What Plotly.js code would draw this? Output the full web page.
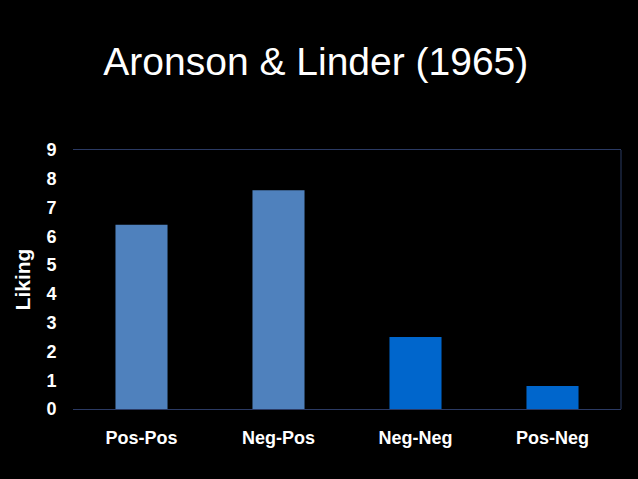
<!DOCTYPE html>
<html>
<head>
<meta charset="utf-8">
<script src="https://cdn.plot.ly/plotly-3.0.1.min.js"></script>
<style>html,body{margin:0;padding:0;background:#000;}#chart{width:638px;height:479px;}</style>
</head>
<body>
<div id="chart"></div>
<script>
const categories = ["Pos-Pos", "Neg-Pos", "Neg-Neg", "Pos-Neg"];
const liking = [6.4, 7.6, 2.5, 0.8];
const barColors = ["#4f81bd", "#4f81bd", "#0066cc", "#0066cc"];
const yTicks = [0, 1, 2, 3, 4, 5, 6, 7, 8, 9];

const frameColor = "#2b3a63";

Plotly.newPlot("chart", [{
  type: "bar",
  x: categories,
  y: liking,
  marker: {color: barColors, line: {width: 0}},
  width: 0.38,
  hoverinfo: "skip"
}], {
  width: 638, height: 479,
  paper_bgcolor: "#000", plot_bgcolor: "#000",
  margin: {l: 73, r: 17, t: 150, b: 70},
  showlegend: false,
  title: {
    text: "Aronson & Linder (1965)",
    font: {family: "Liberation Sans, Arial, sans-serif", size: 39, color: "#ffffff"},
    xref: "container", yref: "container",
    x: 0.495, xanchor: "center", y: 0.871, yanchor: "middle"
  },
  xaxis: {
    showline: true, mirror: true, linecolor: frameColor, linewidth: 1,
    ticks: "outside", ticklen: 12, tickcolor: "rgba(0,0,0,0)",
    tickfont: {family: "Liberation Sans, Arial, sans-serif", size: 18, color: "#ffffff", weight: "bold"},
    showgrid: false, zeroline: false
  },
  yaxis: {
    range: [0, 9], tickvals: yTicks, ticktext: yTicks.map(String),
    showline: false, showgrid: false, zeroline: false,
    ticks: "outside", ticklen: 12, tickcolor: "rgba(0,0,0,0)",
    tickfont: {family: "Liberation Sans, Arial, sans-serif", size: 18, color: "#ffffff", weight: "bold"},
    title: {text: "Liking", standoff: 10,
      font: {family: "Liberation Sans, Arial, sans-serif", size: 21, color: "#ffffff", weight: "bold"}}
  },
  shapes: [{type: "line", xref: "paper", yref: "paper", x0: 1, x1: 1, y0: 0, y1: 1,
    line: {color: frameColor, width: 1}}]
}, {displayModeBar: false, staticPlot: true});
</script>
</body>
</html>
